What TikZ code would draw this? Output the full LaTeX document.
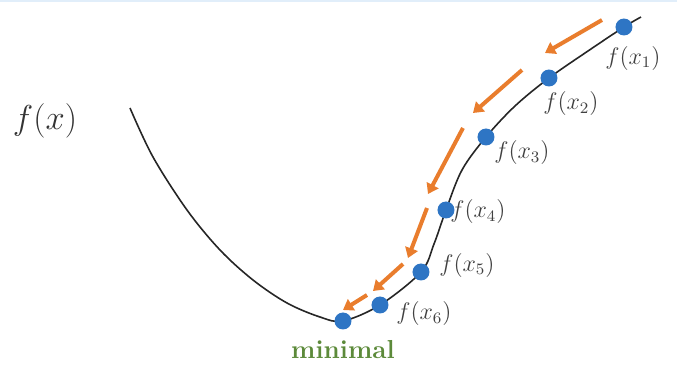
\documentclass[tikz,border=0pt]{standalone}
\usepackage{tikz}
\usetikzlibrary{arrows.meta,positioning}
\definecolor{dotblue}{RGB}{46,117,196}
\definecolor{descorange}{RGB}{233,125,45}
\definecolor{mingreen}{RGB}{92,138,58}
\definecolor{edgeblue}{RGB}{225,238,250}
\tikzset{
  dot/.style={
    circle, fill=dotblue, inner sep=0pt, minimum size=8.5pt
  },
  flabel/.style={
    font=\fontsize{12}{14}\selectfont, text=black!75
  },
  descent/.style={
    draw=descorange, line width=2pt,
    -{Triangle[width=6.5pt,length=5pt]}
  },
  curve/.style={draw=black!85, line width=0.8pt}
}

\begin{document}
\begin{tikzpicture}[x=0.5pt,y=-0.5pt]

% ---------- frame ----------
\useasboundingbox (0,0) rectangle (677,375);
\draw[edgeblue, line width=1pt] (0,0.5) -- (677,0.5);

% ---------- the function ----------
\draw[curve] plot[smooth, tension=0.55] coordinates {
  (130,108) (153,157) (187,210) (220,250) (253,280) (287,303)
  (320,317) (343,321)
  (380,305) (421,272) (434,244) (446,210) (462,170) (486,137)
  (515,106) (549,78) (588,51) (624,27) (641,17)};

\node[font=\fontsize{17}{20}\selectfont, text=black!80] (fx) at (45,121) {$f(x)$};

% ---------- iterates ----------
\node[dot] (p0) at (343,321) {};
\node[dot] (p6) at (380,305) {};
\node[dot] (p5) at (421,272) {};
\node[dot] (p4) at (446,210) {};
\node[dot] (p3) at (486,137) {};
\node[dot] (p2) at (549,78) {};
\node[dot] (p1) at (624,27) {};

\node[flabel] (l1) at (633,58)  {$f(x_1)$};
\node[flabel] (l2) at (571,104) {$f(x_2)$};
\node[flabel] (l3) at (522,153) {$f(x_3)$};
\node[flabel] (l4) at (478,212) {$f(x_4)$};
\node[flabel] (l5) at (467,265) {$f(x_5)$};
\node[flabel] (l6) at (424,314) {$f(x_6)$};

\node[font=\fontsize{13}{15}\selectfont\bfseries, text=mingreen] (min) at (343,350) {minimal};

% ---------- descent steps ----------
\coordinate (s1) at (602,20);  \coordinate (e1) at (545,53);
\coordinate (s2) at (522,70);  \coordinate (e2) at (473,113);
\coordinate (s3) at (463,128); \coordinate (e3) at (428,194);
\coordinate (s4) at (427,208); \coordinate (e4) at (408,258);
\coordinate (s5) at (403,264); \coordinate (e5) at (373,291);
\coordinate (s6) at (367,295); \coordinate (e6) at (343,310);

\foreach \i in {1,...,6}
  \draw[descent] (s\i) -- (e\i);

\end{tikzpicture}
\end{document}
